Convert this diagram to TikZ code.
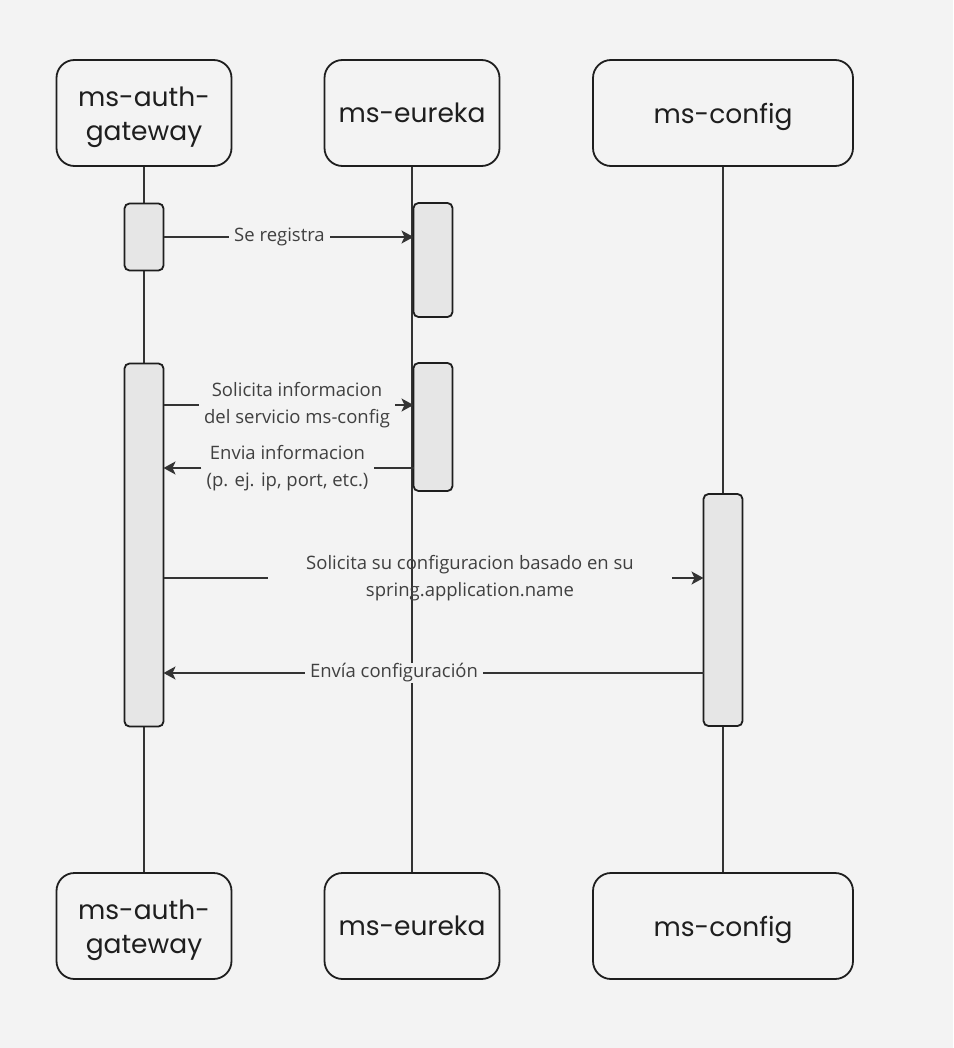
\documentclass[tikz,border=0pt]{standalone}
\usepackage{fontspec}
\setmainfont{Open Sans}
\newfontfamily\headfont{Poppins}
\usetikzlibrary{arrows.meta}

\definecolor{bgcol}{HTML}{F3F3F3}
\definecolor{boxfill}{HTML}{E6E6E6}
\definecolor{inkcol}{HTML}{1E1E1E}
\definecolor{msgcol}{HTML}{333333}
\definecolor{txtcol}{HTML}{404040}

\tikzset{
  actor/.style={draw=inkcol,line width=1.8pt,rounded corners=18pt,fill=bgcol,
    minimum width=175pt,minimum height=106pt,align=center,text=inkcol,
    font=\headfont\fontsize{26.5}{34}\selectfont},
  activ/.style={draw=inkcol,line width=1.8pt,rounded corners=5pt,fill=boxfill,
    minimum width=39pt,outer sep=0pt},
  lifeline/.style={draw=msgcol,line width=1.8pt},
  msg/.style={draw=msgcol,line width=1.8pt,-{Stealth[length=12pt,width=13pt,inset=3pt]}},
  msglabel/.style={fill=bgcol,text=txtcol,align=center,inner xsep=5pt,inner ysep=1pt,
    font=\fontsize{18.5}{27}\selectfont}
}

\begin{document}
\begin{tikzpicture}[x=1pt,y=-1pt]
        \fill[bgcol](0,0)rectangle(953,1048);
        \useasboundingbox(0,0)rectangle(953,1048);

        % actors, top and bottom
        \node[actor](authT)at(144,113){\rule{0pt}{28pt}ms-auth-\\gateway};
        \node[actor](eurT)at(412,113){ms-eureka};
        \node[actor,minimum width=260pt,text depth=0pt](cfgT)at(723,113){ms-config};
        \node[actor](authB)at(144,926){\rule{0pt}{28pt}ms-auth-\\gateway};
        \node[actor](eurB)at(412,926){ms-eureka};
        \node[actor,minimum width=260pt,text depth=0pt](cfgB)at(723,926){ms-config};

        % lifelines
        \draw[lifeline](authT)--(authB);
        \draw[lifeline](eurT)--(eurB);
        \draw[lifeline](cfgT)--(cfgB);

        % activations
        \node[activ,minimum height=67pt](auth1)at(144,237){};
        \node[activ,minimum height=114pt](eur1)at(433,260){};
        \node[activ,minimum height=363pt](auth2)at(144,545){};
        \node[activ,minimum height=128pt](eur2)at(433,427){};
        \node[activ,minimum height=232pt](cfg1)at(723,610){};

        % messages
        \node[msglabel](reg)at(279.5,237){Se registra};
        \draw[msg](auth1.east|-reg)--(reg)--(eur1.west|-reg);
        \node[msglabel](ask)at(297,405){Solicita informacion\\del servicio ms-config};
        \draw[msg](auth2.east|-ask)--(ask)--(eur2.west|-ask);
        \node[msglabel](info)at(287.5,468){Envia informacion\\(p. ej. ip, port, etc.)};
        \draw[msg](eur2.west|-info)--(info)--(auth2.east|-info);
        \node[msglabel,fill=none,inner xsep=38pt](conf)at(470,578){Solicita su configuracion basado en su\\spring.application.name};
        \draw[msg,-](auth2.east|-conf)--(conf.west);
        \draw[msg](conf.east)--(cfg1.west|-conf);
        \node[msglabel](send)at(394,673){Envía configuración};
        \draw[msg](cfg1.west|-send)--(send)--(auth2.east|-send);
        \node[msglabel]at(reg){Se registra};
        \node[msglabel]at(ask){Solicita informacion\\del servicio ms-config};
        \node[msglabel]at(info){Envia informacion\\(p. ej. ip, port, etc.)};
        \node[msglabel]at(send){Envía configuración};
    \end{tikzpicture}
\end{document}
